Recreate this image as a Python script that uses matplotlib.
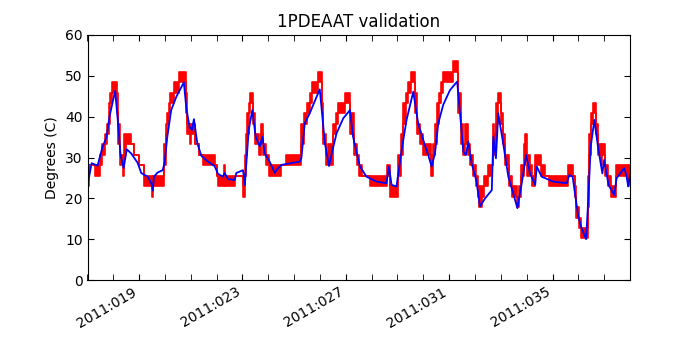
import numpy as np
import matplotlib
matplotlib.use("Agg")
import matplotlib.pyplot as plt
from matplotlib.ticker import MultipleLocator, FuncFormatter

# model (blue), day of year 2011 vs degC
blue_t = [17.00, 17.04, 17.16, 17.39, 17.58, 17.74, 17.85, 18.07, 18.16, 18.28,
          18.40, 18.52, 18.69, 18.94, 19.08, 19.33, 19.47, 19.53, 19.57, 19.71,
          19.91, 19.98, 20.09, 20.24, 20.44, 20.73, 20.82, 20.95, 21.04, 21.12,
          21.25, 21.41, 21.66, 21.92, 22.05, 22.24, 22.31, 22.44, 22.70, 22.76,
          23.02, 23.09, 23.24, 23.38, 23.51, 23.67, 23.77, 23.86, 24.05, 24.25,
          24.31, 24.51, 25.22, 25.28, 25.41, 25.60, 25.99, 26.19, 26.35, 26.44,
          26.64, 26.90, 27.16, 27.28, 27.54, 27.80, 28.19, 28.57, 28.67, 28.77,
          28.96, 29.16, 29.35, 29.61, 29.80, 30.06, 30.19, 30.32, 30.45, 30.58,
          30.77, 31.03, 31.31, 31.42, 31.55, 31.65, 31.74, 31.87, 32.06, 32.19,
          32.39, 32.65, 32.71, 32.81, 32.90, 33.09, 33.29, 33.48, 33.64, 33.81,
          33.98, 34.13, 34.33, 34.39, 34.58, 35.03, 35.55, 35.65, 35.78, 35.87,
          36.00, 36.13, 36.30, 36.39, 36.48, 36.62, 36.77, 36.93, 37.00, 37.17,
          37.39, 37.48, 37.77, 37.86, 37.93, 38.00]
blue_v = [24.0, 24.5, 28.6, 28.0, 32.6, 35.0, 40.0, 46.3, 40.0, 30.6,
          27.4, 32.0, 31.0, 28.7, 26.2, 25.3, 23.7, 21.9, 25.3, 26.3,
          26.9, 28.6, 35.1, 41.6, 44.9, 48.4, 42.4, 37.5, 36.7, 39.4,
          33.5, 30.4, 29.0, 27.9, 26.0, 25.3, 26.2, 24.7, 24.5, 26.2,
          26.9, 23.3, 36.7, 41.6, 35.1, 32.7, 35.1, 31.0, 29.0, 26.2,
          26.9, 28.2, 29.0, 29.9, 38.4, 40.8, 46.7, 33.5, 27.9, 30.6,
          35.9, 39.6, 41.6, 35.1, 27.9, 25.3, 24.1, 23.7, 27.8, 23.3,
          22.9, 31.8, 39.2, 46.1, 38.4, 33.0, 30.6, 27.8, 31.0, 38.4,
          42.9, 46.5, 48.6, 40.8, 31.4, 30.6, 33.9, 28.6, 24.1, 18.0,
          20.0, 22.0, 35.1, 29.8, 40.8, 33.5, 25.3, 21.2, 17.6, 23.7,
          30.6, 26.1, 23.3, 27.8, 25.3, 24.1, 23.7, 25.7, 25.3, 21.2,
          15.5, 12.6, 10.0, 20.4, 32.7, 39.2, 32.2, 26.1, 29.4, 23.3,
          20.8, 24.9, 27.4, 25.7, 22.9, 25.7]

# telemetry (red): start of each interval, min and max quantized reading
red_t = [17.00, 17.07, 17.30, 17.50, 17.58, 17.68, 17.76, 17.82, 17.88, 17.93,
         18.13, 18.18, 18.24, 18.36, 18.42, 18.48, 18.67, 18.79, 18.99, 19.18,
         19.48, 19.54, 19.96, 20.02, 20.08, 20.14, 20.20, 20.34, 20.54, 20.80,
         20.86, 20.96, 21.02, 21.16, 21.30, 21.47, 21.92, 22.00, 22.05, 22.30,
         22.34, 22.70, 23.02, 23.08, 23.13, 23.18, 23.24, 23.30, 23.42, 23.50,
         23.62, 23.70, 23.78, 23.90, 24.02, 24.50, 24.67, 25.28, 25.38, 25.48,
         25.60, 25.70, 25.93, 26.06, 26.12, 26.22, 26.31, 26.50, 26.62, 26.70,
         26.96, 27.18, 27.30, 27.42, 27.52, 27.62, 27.93, 28.60, 28.70, 29.03,
         29.12, 29.22, 29.32, 29.40, 29.54, 29.68, 29.76, 29.86, 29.98, 30.20,
         30.30, 30.36, 30.45, 30.52, 30.62, 30.70, 30.77, 31.13, 31.36, 31.44,
         31.52, 31.62, 31.74, 31.82, 31.92, 32.02, 32.12, 32.17, 32.26, 32.36,
         32.50, 32.62, 32.68, 32.75, 32.82, 32.90, 33.00, 33.08, 33.18, 33.30,
         33.45, 33.62, 33.72, 33.80, 33.88, 33.94, 34.02, 34.12, 34.22, 34.32,
         34.54, 34.70, 34.88, 35.60, 35.80, 35.86, 35.92, 36.02, 36.10, 36.36,
         36.42, 36.48, 36.57, 36.70, 36.78, 36.86, 36.93, 37.05, 37.15, 37.28,
         37.45, 37.92, 37.96, 38.00]
red_lo = [23.0, 28.1, 25.5, 28.1, 30.6, 33.2, 35.7, 38.3, 43.4, 45.9,
          40.8, 33.2, 28.1, 25.5, 30.6, 33.2, 33.2, 30.6, 28.1, 23.0,
          20.4, 23.0, 28.1, 35.7, 38.3, 40.8, 43.4, 45.9, 48.5, 40.8,
          35.7, 33.2, 35.7, 33.2, 30.6, 28.1, 28.1, 25.5, 23.0, 25.5,
          23.0, 25.5, 20.4, 25.5, 30.6, 35.7, 40.8, 43.4, 38.3, 33.2,
          30.6, 35.7, 30.6, 28.1, 25.5, 28.1, 28.1, 33.2, 38.3, 40.8,
          43.4, 45.9, 48.5, 40.8, 33.2, 28.1, 28.1, 35.7, 38.3, 40.8,
          43.4, 35.7, 30.6, 28.1, 25.5, 25.5, 23.0, 25.5, 20.4, 25.5,
          30.6, 38.3, 43.4, 45.9, 48.5, 40.8, 35.7, 33.2, 30.6, 30.6,
          25.5, 30.6, 33.2, 38.3, 43.4, 45.9, 48.5, 51.0, 40.8, 33.2,
          30.6, 33.2, 30.6, 28.1, 25.5, 23.0, 20.4, 17.9, 20.4, 23.0,
          25.5, 28.1, 33.2, 30.6, 38.3, 43.4, 38.3, 33.2, 28.1, 23.0,
          20.4, 17.9, 20.4, 25.5, 28.1, 30.6, 25.5, 25.5, 23.0, 28.1,
          25.5, 25.5, 23.0, 25.5, 25.5, 20.4, 15.3, 12.8, 10.2, 17.9,
          30.6, 38.3, 40.8, 35.7, 30.6, 28.1, 30.6, 25.5, 23.0, 20.4,
          25.5, 23.0, 25.5, 25.5]
red_hi = [25.5, 28.1, 28.1, 30.6, 33.2, 35.7, 38.3, 43.4, 45.9, 48.5,
          45.9, 38.3, 30.6, 28.1, 35.7, 35.7, 33.2, 30.6, 28.1, 25.5,
          23.0, 25.5, 33.2, 38.3, 40.8, 43.4, 45.9, 48.5, 51.0, 45.9,
          38.3, 35.7, 38.3, 33.2, 30.6, 30.6, 28.1, 25.5, 25.5, 28.1,
          25.5, 25.5, 23.0, 30.6, 35.7, 40.8, 43.4, 45.9, 40.8, 35.7,
          33.2, 38.3, 33.2, 30.6, 28.1, 28.1, 30.6, 38.3, 40.8, 43.4,
          45.9, 48.5, 51.0, 43.4, 35.7, 30.6, 33.2, 38.3, 40.8, 43.4,
          45.9, 40.8, 33.2, 30.6, 28.1, 25.5, 25.5, 28.1, 23.0, 30.6,
          35.7, 43.4, 45.9, 48.5, 51.0, 45.9, 38.3, 35.7, 33.2, 33.2,
          28.1, 33.2, 38.3, 43.4, 45.9, 48.5, 51.0, 53.6, 45.9, 38.3,
          33.2, 38.3, 33.2, 30.6, 28.1, 25.5, 23.0, 23.0, 23.0, 25.5,
          28.1, 28.1, 38.3, 35.7, 43.4, 45.9, 40.8, 35.7, 30.6, 25.5,
          23.0, 20.4, 23.0, 28.1, 33.2, 35.7, 30.6, 28.1, 25.5, 30.6,
          28.1, 25.5, 25.5, 28.1, 25.5, 23.0, 17.9, 15.3, 12.8, 25.5,
          35.7, 40.8, 43.4, 38.3, 33.2, 30.6, 33.2, 28.1, 25.5, 23.0,
          28.1, 25.5, 28.1, 28.1]

fig = plt.figure(figsize=(7, 3.5), dpi=100)
ax = fig.add_subplot(1, 1, 1)
fig.subplots_adjust(left=0.125, right=0.9, bottom=0.2, top=0.9)

ax.fill_between(red_t, red_lo, red_hi, step='post', color='r', lw=0)
ax.step(red_t, red_lo, where='post', color='r', lw=1.2)
ax.step(red_t, red_hi, where='post', color='r', lw=1.2)
ax.plot(blue_t, blue_v, color='b', lw=1.3)

ax.set_xlim(17, 38)
ax.set_ylim(0, 60)
ax.set_yticks(np.arange(0, 61, 10))
ax.xaxis.set_major_locator(MultipleLocator(4, offset=3))
ax.xaxis.set_minor_locator(MultipleLocator(1))
ax.xaxis.set_major_formatter(FuncFormatter(lambda x, p: "2011:%03d" % int(round(x))))
ax.tick_params(which='both', direction='in', top=True, right=True, length=4)
ax.tick_params(axis='both', labelsize=10)
for lab in ax.get_xticklabels():
    lab.set_rotation(30)
    lab.set_ha('right')

ax.set_title("1PDEAAT validation", fontsize=12)
ax.set_ylabel("Degrees (C)", fontsize=10)

fig.savefig("out.png", dpi=100)
